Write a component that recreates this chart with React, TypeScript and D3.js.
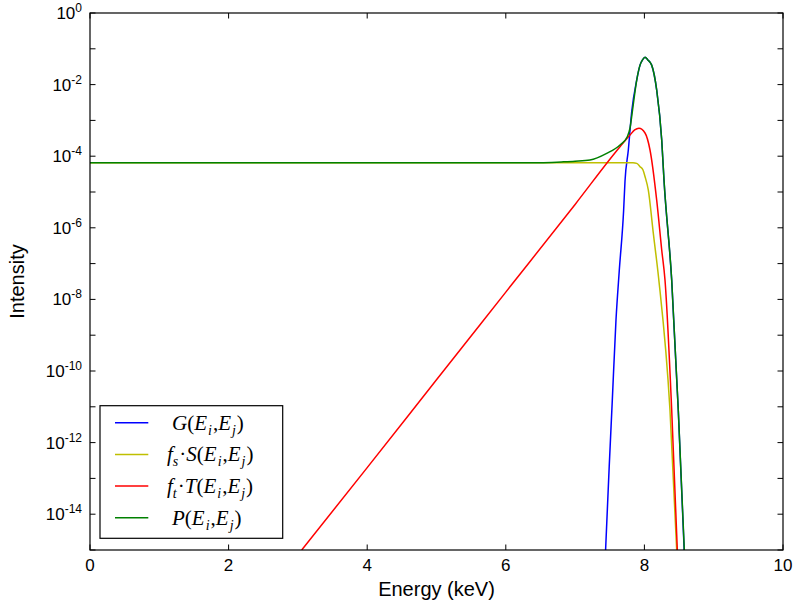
import React from "react";
import * as d3 from "d3";

// ---- data ----
const gEnergy = [7.44, 7.492, 7.537, 7.59, 7.638, 7.7, 7.72, 7.768, 7.817, 7.889, 7.937, 7.975, 8.009, 8.05, 8.105, 8.177, 8.25, 8.283, 8.394, 8.489, 8.574];
const gIntensity = [1e-15, 2.1e-13, 1.55e-11, 2.66e-9, 6.6e-8, 3e-6, 2.0e-5, 1.49e-4, 1.75e-3, 1.34e-2, 3.5e-2, 5.0e-2, 5.8e-2, 4.9e-2, 3.5e-2, 7.1e-3, 2.8e-4, 2.1e-5, 3.4e-8, 7.9e-12, 1e-15];

const sEnergy = [0, 2, 4, 6, 7.835, 7.889, 7.937, 7.98, 8.009, 8.056, 8.128, 8.205, 8.369, 8.466];
const sIntensity = [6.6e-5, 6.6e-5, 6.6e-5, 6.6e-5, 6.6e-5, 6.3e-5, 5.1e-5, 4.1e-5, 2.7e-5, 1.14e-5, 7.2e-7, 4e-8, 8.1e-12, 1e-15];

const tEnergy = [3.055, 4.0, 5.0, 6.0, 7.0, 7.648, 7.792, 7.86, 7.922, 8.009, 8.081, 8.177, 8.25, 8.297, 8.394, 8.475];
const tIntensity = [1e-15, 2.0e-13, 5.7e-11, 1.6e-8, 4.5e-6, 1.84e-4, 3.9e-4, 5.4e-4, 6.0e-4, 4.45e-4, 1.49e-4, 6.0e-6, 2.4e-7, 3.5e-8, 8.1e-12, 1e-15];

const pEnergy = [0, 2, 4, 6, 6.5, 6.8, 7.0, 7.215, 7.456, 7.648, 7.753, 7.792, 7.835, 7.889, 7.937, 7.975, 8.009, 8.05, 8.105, 8.177, 8.25, 8.283, 8.394, 8.489, 8.576];
const pIntensity = [6.6e-5, 6.6e-5, 6.6e-5, 6.6e-5, 6.6e-5, 6.9e-5, 7.2e-5, 7.8e-5, 1.2e-4, 2.06e-4, 3.5e-4, 6.1e-4, 2.4e-3, 1.34e-2, 3.5e-2, 5.0e-2, 5.8e-2, 4.9e-2, 3.5e-2, 7.1e-3, 2.84e-4, 2.16e-5, 3.5e-8, 8.1e-12, 1e-15];

const xTicks = [0, 2, 4, 6, 8, 10];
const yTickExps = [0, -1, -2, -3, -4, -5, -6, -7, -8, -9, -10, -11, -12, -13, -14, -15];
const yLabelExps = [0, -2, -4, -6, -8, -10, -12, -14];

const legendItems = ["G", "S", "T", "P"];

// ---- layout ----
const W = 800, H = 609;
const L = 90, R = 783, T = 13, B = 550;

export default function App() {
  const x = d3.scaleLinear().domain([0, 10]).range([L, R]);
  const y = d3.scaleLog().domain([1e-15, 1]).range([B, T]);

  const line = d3
    .line<[number, number]>()
    .x((d) => x(d[0]))
    .y((d) => y(d[1]))
    .curve(d3.curveMonotoneX);

  const zip = (a: number[], b: number[]) => a.map((v, i) => [v, b[i]] as [number, number]);

  const series = [
    { key: "G", data: zip(gEnergy, gIntensity), color: "#0000ff" },
    { key: "S", data: zip(sEnergy, sIntensity), color: "#bfbf00" },
    { key: "T", data: zip(tEnergy, tIntensity), color: "#ff0000" },
    { key: "P", data: zip(pEnergy, pIntensity), color: "#008000" },
  ];

  const serif = "'Liberation Serif', 'DejaVu Serif', serif";
  const sans = "'Liberation Sans', Arial, Helvetica, sans-serif";
  const tk = 5.5;
  const FS = 21;
  const SFS = 14;
  const SD = 5;

  const legendLabel = (k: string, lx: number, ly: number) => {
    const parts: React.ReactNode[] = [];
    if (k === "S" || k === "T") {
      parts.push(<tspan key="f" fontStyle="italic">f</tspan>);
      parts.push(<tspan key="fs" fontSize={SFS} dy={SD} fontStyle="italic">{k === "S" ? "s" : "t"}</tspan>);
      parts.push(<tspan key="dot" dy={-SD} dx={1}>{"\u00B7"}</tspan>);
      parts.push(<tspan key="L" fontStyle="italic">{k}</tspan>);
    } else {
      parts.push(<tspan key="L" fontStyle="italic">{k}</tspan>);
    }
    return (
      <text x={lx} y={ly} fontFamily={serif} fontSize={FS} fill="#000">
        {parts}
        <tspan>(</tspan>
        <tspan fontStyle="italic">E</tspan>
        <tspan fontSize={SFS} dy={SD} dx={1} fontStyle="italic">i</tspan>
        <tspan dy={-SD} dx={1}>,</tspan>
        <tspan fontStyle="italic">E</tspan>
        <tspan fontSize={SFS} dy={SD} dx={1} fontStyle="italic">j</tspan>
        <tspan dy={-SD} dx={1}>)</tspan>
      </text>
    );
  };

  const legendColor: Record<string, string> = { G: "#0000ff", S: "#bfbf00", T: "#ff0000", P: "#008000" };

  return (
    <svg
      width={W}
      height={H}
      style={{ position: "absolute", left: 0, top: 0, background: "#fff" }}
    >
      <rect x={0} y={0} width={W} height={H} fill="#fff" />
      <defs>
        <clipPath id="plotclip">
          <rect x={L} y={T} width={R - L} height={B - T} />
        </clipPath>
      </defs>

      <g clipPath="url(#plotclip)">
        {series.map((s) => (
          <path key={s.key} d={line(s.data) || ""} fill="none" stroke={s.color} strokeWidth={1.5} />
        ))}
      </g>

      {/* ticks */}
      {xTicks.map((t) => (
        <g key={"xt" + t}>
          <line x1={x(t)} x2={x(t)} y1={B} y2={B - tk} stroke="#000" strokeWidth={1} />
          <line x1={x(t)} x2={x(t)} y1={T} y2={T + tk} stroke="#000" strokeWidth={1} />
          <text x={x(t)} y={B + 21} textAnchor="middle" fontFamily={sans} fontSize={17} fill="#000">
            {t}
          </text>
        </g>
      ))}
      {yTickExps.map((e) => (
        <g key={"yt" + e}>
          <line x1={L} x2={L + tk} y1={y(Math.pow(10, e))} y2={y(Math.pow(10, e))} stroke="#000" strokeWidth={1} />
          <line x1={R} x2={R - tk} y1={y(Math.pow(10, e))} y2={y(Math.pow(10, e))} stroke="#000" strokeWidth={1} />
        </g>
      ))}
      {yLabelExps.map((e) => (
        <text
          key={"yl" + e}
          x={L - 8}
          y={y(Math.pow(10, e)) + 6}
          textAnchor="end"
          fontFamily={sans}
          fontSize={17}
          fill="#000"
        >
          10
          <tspan fontSize={12} dy={-7}>{e === 0 ? "0" : "-" + Math.abs(e)}</tspan>
        </text>
      ))}

      {/* frame */}
      <rect x={L} y={T} width={R - L} height={B - T} fill="none" stroke="#000" strokeWidth={1.2} />

      {/* axis labels */}
      <text x={(L + R) / 2} y={596} textAnchor="middle" fontFamily={sans} fontSize={20} fill="#000">
        Energy (keV)
      </text>
      <text
        transform={`translate(24, ${(T + B) / 2}) rotate(-90)`}
        textAnchor="middle"
        fontFamily={sans}
        fontSize={20}
        fill="#000"
      >
        Intensity
      </text>

      {/* legend */}
      <rect x={100} y={405.7} width={182.7} height={132.6} fill="#fff" stroke="#000" strokeWidth={1.2} />
      {legendItems.map((k, i) => {
        const ly = 422.7 + i * 31.7;
        return (
          <g key={"lg" + k}>
            <line x1={115} x2={148.3} y1={ly} y2={ly} stroke={legendColor[k]} strokeWidth={1.5} />
            {legendLabel(k, k === "S" || k === "T" ? 167 : 172, ly + 7)}
          </g>
        );
      })}
    </svg>
  );
}
